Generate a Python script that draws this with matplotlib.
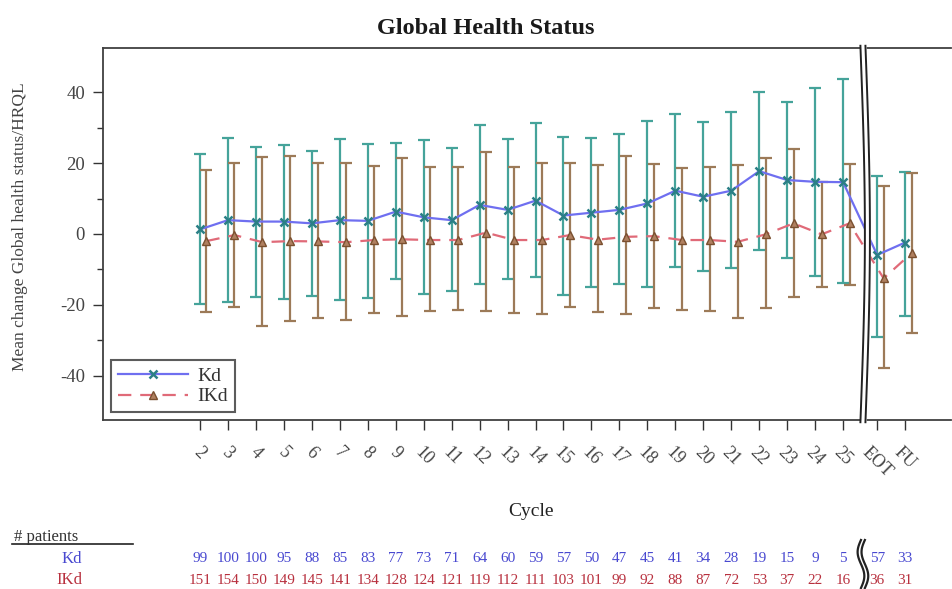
import numpy as np
import matplotlib
matplotlib.use("Agg")
import matplotlib.pyplot as plt
from matplotlib.transforms import blended_transform_factory
from matplotlib.ticker import FixedLocator

# ---------------- data ----------------
categories = [str(c) for c in range(2, 26)] + ["EOT", "FU"]

kd_mean = [1.3, 3.9, 3.5, 3.5, 3.0, 3.9, 3.7, 6.3, 4.7, 3.9, 8.2, 6.8, 9.4, 5.2, 6.0,
           6.8, 8.6, 12.2, 10.5, 12.2, 17.7, 15.2, 14.7, 14.6, -5.9, -2.4]
kd_hi = [22.5, 27.0, 24.6, 25.1, 23.4, 26.8, 25.3, 25.5, 26.5, 24.1, 30.7, 26.8, 31.2, 27.4, 27.0,
         28.2, 31.8, 33.7, 31.5, 34.3, 40.1, 37.3, 41.0, 43.6, 16.3, 17.4]
kd_lo = [-19.8, -19.1, -17.7, -18.3, -17.5, -18.6, -18.1, -12.8, -16.9, -16.0, -14.1, -12.8, -12.0, -17.2, -14.8,
         -14.1, -14.8, -9.2, -10.4, -9.7, -4.5, -6.7, -11.7, -13.9, -28.9, -23.1]

ikd_mean = [-2.0, -0.3, -2.3, -2.0, -2.1, -2.3, -1.7, -1.5, -1.7, -1.7, 0.4, -1.7, -1.7, -0.3, -1.6,
            -0.8, -0.6, -1.7, -1.7, -2.2, -0.1, 3.0, -0.1, 3.0, -12.5, -5.4]
ikd_hi = [18.0, 20.1, 21.6, 22.0, 20.1, 20.1, 19.2, 21.3, 18.8, 18.8, 23.0, 19.0, 20.1, 20.1, 19.3,
          22.0, 19.7, 18.5, 19.0, 19.4, 21.5, 23.9, 14.7, 19.7, 13.6, 17.3]
ikd_lo = [-21.9, -20.5, -25.9, -24.5, -23.6, -24.2, -22.3, -23.1, -21.7, -21.4, -21.6, -22.2, -22.5, -20.5, -22.0,
          -22.5, -20.9, -21.4, -21.6, -23.6, -20.9, -17.7, -14.8, -14.4, -37.8, -27.8]

kd_n = [99, 100, 100, 95, 88, 85, 83, 77, 73, 71, 64, 60, 59, 57, 50, 47, 45, 41, 34, 28, 19, 15, 9, 5, 57, 33]
ikd_n = [151, 154, 150, 149, 145, 141, 134, 128, 124, 121, 119, 112, 111, 103, 101, 99, 92, 88, 87, 72,
         53, 37, 22, 16, 36, 31]

y_major = [-40, -20, 0, 20, 40]
y_minor = [-30, -10, 10, 30]

# ---------------- layout / style ----------------
n_main = 24
break_gap = 0.22
pos = np.array([i if i < n_main else i + break_gap for i in range(len(categories))], dtype=float)
ikd_shift = 0.23
break_x = n_main - 1 + 0.71

kd_line_col = "#6f6ff0"
kd_bar_col = "#45a39a"
kd_mk_col = "#2b7f86"
ikd_line_col = "#e06a78"
ikd_bar_col = "#9c7a58"
kd_txt_col = "#4848d0"
ikd_txt_col = "#b8303e"
txt_gray = "#444444"

plt.rcParams['font.family'] = ['Liberation Serif', 'DejaVu Serif']

W, H = 952, 589
fig = plt.figure(figsize=(W / 100, H / 100), dpi=100)
ax = fig.add_axes([103 / W, 1 - 420 / H, (951 - 103) / W, (420 - 48) / H])

km = np.array(kd_mean); im = np.array(ikd_mean)
ax.errorbar(pos, km, yerr=[km - np.array(kd_lo), np.array(kd_hi) - km], fmt='none',
            ecolor=kd_bar_col, elinewidth=1.6, capsize=4, capthick=1.6, zorder=2)
ax.errorbar(pos + ikd_shift, im, yerr=[im - np.array(ikd_lo), np.array(ikd_hi) - im], fmt='none',
            ecolor=ikd_bar_col, elinewidth=1.6, capsize=4, capthick=1.6, zorder=2)
ax.plot(pos, km, color=kd_line_col, lw=1.6, marker='x', ms=6, mew=1.8,
        mec=kd_mk_col, zorder=3, label='Kd')
ax.plot(pos + ikd_shift, im, color=ikd_line_col, lw=1.6, ls=(0, (6, 4)), marker='^', ms=6,
        mfc='#b08060', mec='#7a5030', mew=1.0, zorder=3, label='IKd')

ax.set_xlim(-3.47, 26.86)
ax.set_ylim(-52.4, 52.4)
ax.set_xticks(pos)
ax.set_xticklabels(categories, rotation=-45, ha='center', va='top', fontsize=13, color=txt_gray)
ax.set_yticks(y_major)
ax.set_yticklabels([str(v) for v in y_major], fontsize=13.5, color=txt_gray)
ax.yaxis.set_minor_locator(FixedLocator(y_minor))
ax.tick_params(axis='both', which='major', direction='out', length=7, width=1.0, color='#333333')
ax.tick_params(axis='y', which='minor', direction='out', length=4.5, width=1.0, color='#333333')
ax.tick_params(axis='x', pad=10)
ax.tick_params(axis='y', pad=6)

for s in ['top', 'bottom', 'left']:
    ax.spines[s].set_color('#404040')
    ax.spines[s].set_linewidth(1.3)
ax.spines['right'].set_visible(False)

fig.text(486 / W, 1 - 28 / H, 'Global Health Status', fontsize=17.5, fontweight='bold',
         ha='center', va='center', color='#1a1a1a')
ax.set_ylabel('Mean change Global health status/HRQL', fontsize=12.5, color=txt_gray)
ax.yaxis.set_label_coords((28 - 103) / 848, 0.52)
ax.set_xlabel('Cycle', fontsize=14, color='#222222')
ax.xaxis.set_label_coords((531 - 103) / 848, -(503 - 420) / 372)

leg = ax.legend(loc='lower left', fontsize=14, frameon=True, fancybox=False,
                handlelength=3.6, handletextpad=0.5, borderpad=0.35, labelspacing=0.15,
                borderaxespad=0.4)
leg.get_frame().set_edgecolor('#333333')
leg.get_frame().set_linewidth(1.5)
for tx in leg.get_texts():
    tx.set_color('#333333')

# axis break
tb = blended_transform_factory(ax.transData, ax.transAxes)
t = np.linspace(0, 1, 120)
yy = -0.006 + 1.012 * t
bulge = 0.16 * np.sin(np.pi * t)
xl = break_x - 0.09 + bulge
xr = break_x + 0.09 + bulge
ax.fill_betweenx(yy, xl, xr, color='white', transform=tb, clip_on=False, zorder=5)
ax.plot(xl, yy, color='#222222', lw=1.4, transform=tb, clip_on=False, zorder=6)
ax.plot(xr, yy, color='#222222', lw=1.4, transform=tb, clip_on=False, zorder=6)

# patient table
tf = blended_transform_factory(ax.transData, fig.transFigure)
y_kd = 1 - 559 / H
y_ikd = 1 - 580 / H
for i, p in enumerate(pos):
    fig.text(p, y_kd, str(kd_n[i]), transform=tf, ha='center', va='center', fontsize=11, color=kd_txt_col)
    fig.text(p, y_ikd, str(ikd_n[i]), transform=tf, ha='center', va='center', fontsize=11, color=ikd_txt_col)
fig.text(82 / W, y_kd, 'Kd', ha='right', va='center', fontsize=12, color=kd_txt_col)
fig.text(82 / W, y_ikd, 'IKd', ha='right', va='center', fontsize=12, color=ikd_txt_col)
fig.text(14 / W, 1 - 541 / H, '# patients', ha='left', va='baseline', fontsize=12, color='#333333')
fig.add_artist(plt.Line2D([12 / W, 133 / W], [1 - 544 / H, 1 - 544 / H], color='#222222', lw=1.2))

# break mark in table
ty = np.linspace(0, 1, 80)
yf = 1 - (540 + 48 * ty) / H
wob = 0.12 * np.sin(2 * np.pi * ty)
for dx in (-0.07, 0.07):
    fig.add_artist(plt.Line2D(break_x + dx - wob, yf, transform=tf, color='#222222', lw=1.6))

fig.savefig('out.png', dpi=100)
